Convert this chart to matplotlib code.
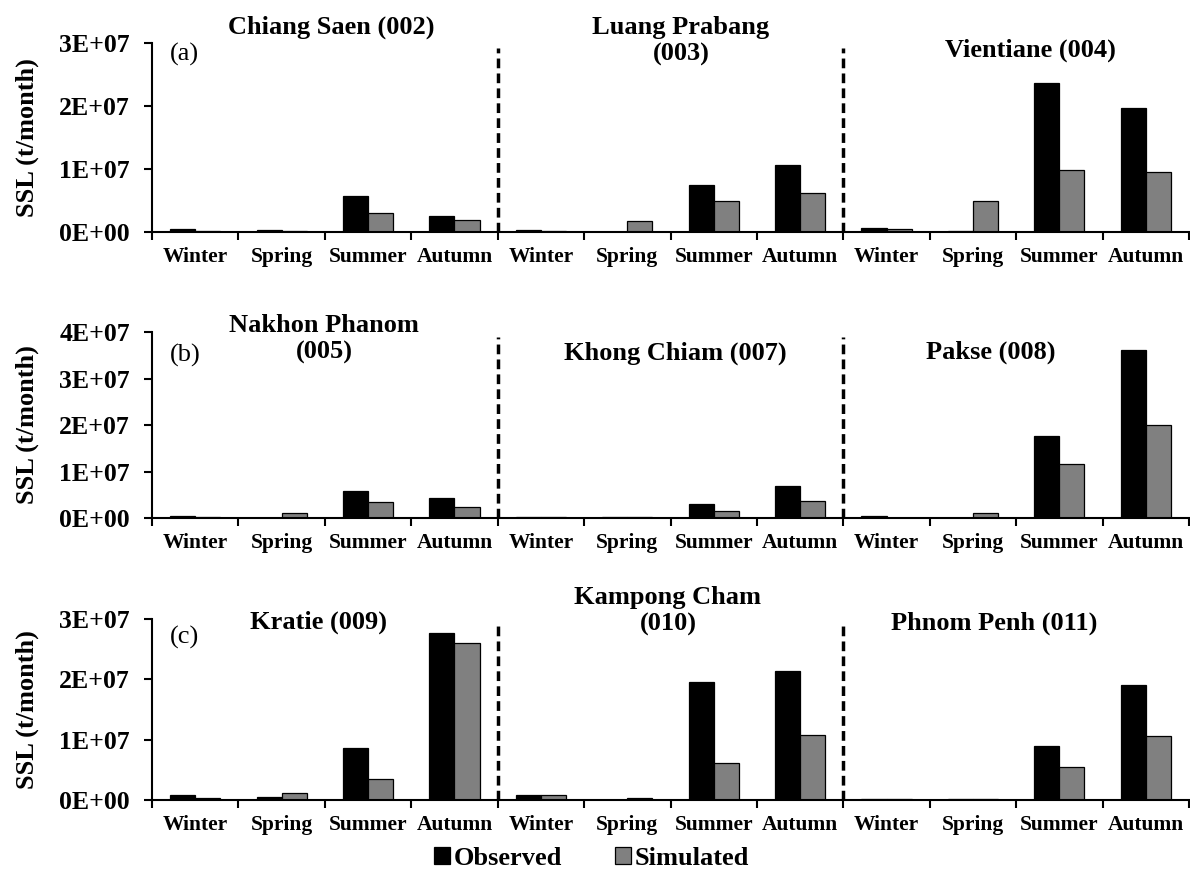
import numpy as np
import matplotlib
matplotlib.use("Agg")
import matplotlib.pyplot as plt
from matplotlib.patches import Patch
from matplotlib.ticker import FuncFormatter, FixedLocator

plt.rcParams['font.family'] = ['Liberation Serif', 'DejaVu Serif']

seasons = ['Winter', 'Spring', 'Summer', 'Autumn']

# station names per panel
stations_a = ['Chiang Saen (002)', 'Luang Prabang\n(003)', 'Vientiane (004)']
stations_b = ['Nakhon Phanom\n(005)', 'Khong Chiam (007)', 'Pakse (008)']
stations_c = ['Kratie (009)', 'Kampong Cham\n(010)', 'Phnom Penh (011)']

# SSL (t/month), 4 seasons x 3 stations per panel
obs_a = [0.42e6, 0.30e6, 5.70e6, 2.54e6, 0.30e6, 0.03e6, 7.40e6, 10.56e6, 0.63e6, 0.10e6, 23.7e6, 19.7e6]
sim_a = [0.15e6, 0.20e6, 2.96e6, 1.85e6, 0.20e6, 1.69e6, 4.96e6, 6.13e6, 0.48e6, 4.96e6, 9.88e6, 9.50e6]

obs_b = [0.36e6, 0.10e6, 5.84e6, 4.25e6, 0.25e6, 0.20e6, 3.10e6, 6.80e6, 0.50e6, 0.10e6, 17.7e6, 36.1e6]
sim_b = [0.29e6, 1.00e6, 3.46e6, 2.38e6, 0.20e6, 0.20e6, 1.50e6, 3.70e6, 0.08e6, 1.10e6, 11.7e6, 19.9e6]

obs_c = [0.89e6, 0.50e6, 8.58e6, 27.6e6, 0.89e6, 0.05e6, 19.6e6, 21.3e6, 0.17e6, 0.17e6, 8.97e6, 19.1e6]
sim_c = [0.33e6, 1.22e6, 3.54e6, 26.0e6, 0.83e6, 0.28e6, 6.20e6, 10.7e6, 0.10e6, 0.17e6, 5.53e6, 10.6e6]

ymax_a, ymax_b, ymax_c = 3e7, 4e7, 3e7

W, H = 1190, 872
fig = plt.figure(figsize=(W / 100, H / 100), dpi=100)

left, right = 152 / W, 1189 / W
# (top tick y, zero y) in pixels
boxes = [(43, 232), (332, 518), (619, 800)]

# title positions: (x in data, y in axes fraction)
title_pos = [
    [(1.57, 1.085), (5.62, 1.01), (9.67, 0.963)],
    [(1.49, 0.962), (5.55, 0.887), (9.21, 0.892)],
    [(1.43, 0.983), (5.47, 1.045), (9.25, 0.978)],
]
panel_lbl = ['(a)', '(b)', '(c)']
panel_lbl_y = [0.937, 0.876, 0.90]

panels = [(obs_a, sim_a, ymax_a, stations_a),
          (obs_b, sim_b, ymax_b, stations_b),
          (obs_c, sim_c, ymax_c, stations_c)]

x = np.arange(12)
bw = 0.29

for i, (obs, sim, ymax, names) in enumerate(panels):
    top, zero = boxes[i]
    ax = fig.add_axes([left, 1 - zero / H, right - left, (zero - top) / H])
    ax.bar(x - bw / 2, obs, bw, color='black', edgecolor='black', linewidth=0.9)
    ax.bar(x + bw / 2, sim, bw, color='#808080', edgecolor='black', linewidth=0.9)

    ax.set_xlim(-0.5, 11.5)
    ax.set_ylim(0, ymax)
    ax.yaxis.set_major_locator(FixedLocator(np.arange(0, ymax + 1, 1e7)))
    ax.yaxis.set_major_formatter(FuncFormatter(lambda v, p: f"{v:.0E}"))

    ax.set_xticks(np.arange(-0.5, 12, 1))
    ax.set_xticklabels([])
    ax.set_xticks(x, minor=True)
    ax.set_xticklabels(seasons * 3, minor=True, fontsize=15.5, fontweight='bold')
    ax.tick_params(axis='x', which='major', direction='out', length=6, width=1.5)
    ax.tick_params(axis='x', which='minor', length=0, pad=11)
    ax.tick_params(axis='y', direction='out', length=6, width=1.5, pad=10)
    for lab in ax.get_yticklabels():
        lab.set_fontsize(18.5)
        lab.set_fontweight('bold')

    for s in ['top', 'right']:
        ax.spines[s].set_visible(False)
    for s in ['left', 'bottom']:
        ax.spines[s].set_linewidth(1.5)

    ax.set_ylabel('SSL (t/month)', fontsize=19, fontweight='bold')
    ax.yaxis.set_label_coords(-0.109, 0.5)

    for xv in [3.5, 7.5]:
        ax.axvline(xv, ymin=0, ymax=(zero - top - 5) / (zero - top), color='black',
                   linewidth=2.5, linestyle=(0, (2.8, 1.5)))

    trans = ax.get_xaxis_transform()
    for (tx, ty), name in zip(title_pos[i], names):
        ax.text(tx, ty, name, transform=trans, ha='center', va='center',
                fontsize=19, fontweight='bold', linespacing=1.2, clip_on=False)
    ax.text(-0.12, panel_lbl_y[i], panel_lbl[i], transform=trans, ha='center',
            va='center', fontsize=19)

handles = [Patch(facecolor='black', edgecolor='black', linewidth=0.9),
           Patch(facecolor='#808080', edgecolor='black', linewidth=0.9)]
fig.legend(handles, ['Observed', 'Simulated'], loc='center', bbox_to_anchor=(0.497, 0.016),
           ncol=2, frameon=False, prop={'size': 19, 'weight': 'bold'},
           handlelength=0.6, handleheight=0.6, handletextpad=0.15, columnspacing=2.0,
           borderpad=0, borderaxespad=0)

fig.savefig('out.png', dpi=100)
